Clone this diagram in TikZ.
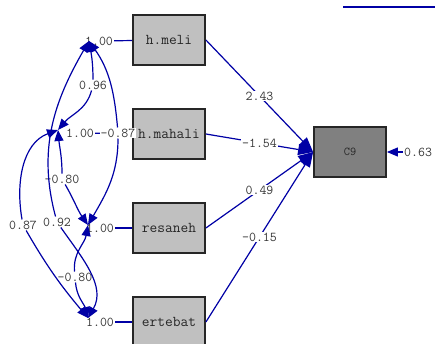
\documentclass[tikz,border=0pt]{standalone}
\usetikzlibrary{arrows.meta}
\definecolor{pathblue}{RGB}{0,0,165}
\definecolor{boxgray}{RGB}{192,192,192}
\definecolor{endgray}{RGB}{128,128,128}
\definecolor{txtgray}{RGB}{55,55,55}

\begin{document}
\begin{tikzpicture}[x=1pt, y=1pt, node distance={94pt},
	box/.style = {draw=black!85, line width=1.8pt, fill=boxgray, minimum width=72pt, minimum height=50pt, inner sep=0pt, font=\ttfamily\fontsize{15}{15}\selectfont, text=black!85},
	endo/.style = {box, fill=endgray, font=\ttfamily\fontsize{12}{12}\selectfont},
	var/.style = {inner sep=1pt, font=\ttfamily\fontsize{13.5}{13.5}\selectfont, text=txtgray},
	coef/.style = {var, fill=white},
	link/.style = {draw=pathblue, line width=1.2pt},
	cova/.style = {link, {Triangle[length=11pt,width=9pt]}-},
	covb/.style = {link, -{Triangle[length=11pt,width=9pt]}},
	path/.style = {link, -{Triangle[length=15pt,width=11pt]}}]
\useasboundingbox (0,0) rectangle (435,-344);
% observed variables
\node[box] (meli) at (169,-40) {h.meli};
	\node[box] (mahali) [below of=meli] {h.mahali};
\node[box] (resaneh) [below of=mahali] {resaneh};
	\node[box] (ertebat) [below of=resaneh] {ertebat};
\node[endo] (c9) at (350,-152) {C9};
% variances
\node[var] (vA) at (99,-41) {1.00};
\node[var] (vB) at (80,-133) {1.00};
\node[var] (vC) at (100,-228) {1.00};
\node[var] (vD) at (100,-322) {1.00};
\coordinate (tA) at (89,-41);
\coordinate (tB) at (58,-130);
\coordinate (tC) at (88,-225);
\coordinate (tD) at (88,-318);
\draw[link] (vA) -- (meli);
\draw[link] (vB) -- (mahali);
\draw[link] (vC) -- (resaneh);
\draw[link] (vD) -- (ertebat);
% covariances
\node[coef] (cAB) at (93,-85) {0.96};
\node[coef] (cAC) at (118,-133) {-0.87};
\node[coef] (cBC) at (62,-179) {-0.80};
\node[coef] (cAD) at (57,-222) {0.92};
\node[coef] (cBD) at (23,-225) {0.87};
\node[coef] (cCD) at (75,-277) {-0.80};
\draw[cova] (tA) to[out=-80,in=90] (cAB);
\draw[covb] (cAB) to[out=-105,in=50] (tB);
\draw[cova] (tA) to[out=-55,in=95] (cAC);
\draw[covb] (cAC) to[out=-90,in=60] (tC);
\draw[cova] (tA) to[out=-120,in=105] (cAD);
\draw[covb] (cAD) to[out=-55,in=60] (tD);
\draw[cova] (tB) to[out=-85,in=90] (cBC);
\draw[covb] (cBC) to[out=-60,in=125] (tC);
\draw[cova] (tB) to[out=200,in=100] (cBD);
\draw[covb] (cBD) to[out=-60,in=130] (tD);
\draw[cova] (tC) to[out=-100,in=95] (cCD);
\draw[covb] (cCD) to[out=-85,in=105] (tD);
% paths to C9
\draw[path] (meli.east) -- node[coef] {2.43} (c9.west);
\draw[path] (mahali.east) -- node[coef] {-1.54} (c9.west);
\draw[path] (resaneh.east) -- node[coef] {0.49} (c9.west);
\draw[path] (ertebat.east) -- node[coef] {-0.15} (c9.west);
\node[var, anchor=west] (e9) at (403,-152) {0.63};
\draw[covb] (e9) -- (c9);
\draw[link] (343,-7) -- (435,-7);
\end{tikzpicture}
\end{document}
